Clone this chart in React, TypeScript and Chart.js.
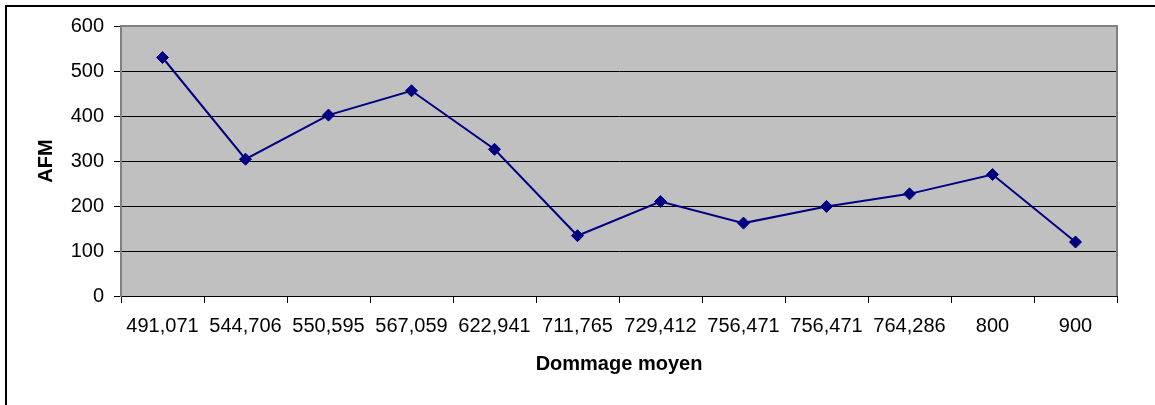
import React, { useEffect, useRef } from "react";
import { Chart, registerables } from "chart.js";

Chart.register(...registerables);

const categories: string[] = [
  "491,071", "544,706", "550,595", "567,059", "622,941", "711,765",
  "729,412", "756,471", "756,471", "764,286", "800", "900",
];
const afmValues: number[] = [530, 304, 402, 456, 326, 134, 210, 162, 199, 227, 270, 120];
const yTicksMin = 0;
const yTicksMax = 600;
const yTickStep = 100;
const xTitle = "Dommage moyen";
const yTitle = "AFM";

const FONT = "'Liberation Sans', Arial, sans-serif";

const plotDecor = {
  id: "plotDecor",
  beforeDraw(chart: any) {
    const { ctx, chartArea } = chart;
    ctx.save();
    ctx.fillStyle = "#ffffff";
    ctx.fillRect(0, 0, chart.width, chart.height);
    ctx.strokeStyle = "#000000";
    ctx.lineWidth = 2;
    ctx.strokeRect(6, 6, chart.width + 20, chart.height + 20);
    ctx.fillStyle = "#C0C0C0";
    ctx.fillRect(chartArea.left, chartArea.top, chartArea.right - chartArea.left, chartArea.bottom - chartArea.top);
    ctx.restore();
  },
  beforeDatasetsDraw(chart: any) {
    const { ctx, chartArea } = chart;
    ctx.save();
    ctx.strokeStyle = "#808080";
    ctx.lineWidth = 2;
    ctx.beginPath();
    ctx.moveTo(chartArea.left, chartArea.top);
    ctx.lineTo(chartArea.right, chartArea.top);
    ctx.lineTo(chartArea.right, chartArea.bottom);
    ctx.stroke();
    ctx.restore();
  },
};

export default function App() {
  const ref = useRef<HTMLCanvasElement | null>(null);

  useEffect(() => {
    if (!ref.current) return;
    const chart = new Chart(ref.current, {
      type: "line",
      data: {
        labels: categories,
        datasets: [
          {
            label: yTitle,
            data: afmValues,
            borderColor: "#000080",
            backgroundColor: "#000080",
            borderWidth: 2,
            pointStyle: "rectRot",
            pointRadius: 6,
            pointBorderWidth: 1,
            pointBackgroundColor: "#000080",
            pointBorderColor: "#000080",
            tension: 0,
          },
        ],
      },
      options: {
        responsive: false,
        animation: false,
        layout: { padding: { top: 26, right: 38, bottom: 0, left: 0 } },
        plugins: {
          legend: { display: false },
          tooltip: { enabled: false },
          title: { display: false },
        },
        scales: {
          x: {
            type: "category",
            offset: true,
            afterFit: (s: any) => {
              s.height = 109;
            },
            grid: {
              display: true,
              offset: true,
              drawOnChartArea: false,
              drawTicks: true,
              tickLength: 7,
              color: "#000000",
              lineWidth: 1,
            },
            border: { display: true, color: "#000000", width: 1 },
            ticks: {
              autoSkip: false,
              maxRotation: 0,
              minRotation: 0,
              padding: 11,
              color: "#000000",
              font: { family: FONT, size: 20 },
            },
            title: {
              display: true,
              text: xTitle,
              color: "#000000",
              font: { family: FONT, size: 20, weight: "bold" },
              padding: { top: 0, bottom: 29 },
            },
          },
          y: {
            min: yTicksMin,
            max: yTicksMax,
            afterFit: (s: any) => {
              s.width = 121;
            },
            grid: {
              color: (c: any) => (c.tick && c.tick.value === yTicksMax ? "#808080" : "#000000"),
              tickColor: "#000000",
              lineWidth: 1,
              drawTicks: true,
              tickLength: 7,
            },
            border: { display: true, color: "#808080", width: 2 },
            ticks: {
              stepSize: yTickStep,
              padding: 10,
              color: "#000000",
              font: { family: FONT, size: 20 },
            },
            title: {
              display: true,
              text: yTitle,
              color: "#000000",
              font: { family: FONT, size: 20, weight: "bold" },
              padding: { top: 34, bottom: 0 },
            },
          },
        },
      },
      plugins: [plotDecor],
    });
    return () => chart.destroy();
  }, []);

  return (
    <div style={{ position: "absolute", left: 0, top: 0, width: 1155, height: 405, background: "#fff" }}>
      <canvas ref={ref} width={1155} height={405} style={{ display: "block", width: 1155, height: 405 }} />
    </div>
  );
}
